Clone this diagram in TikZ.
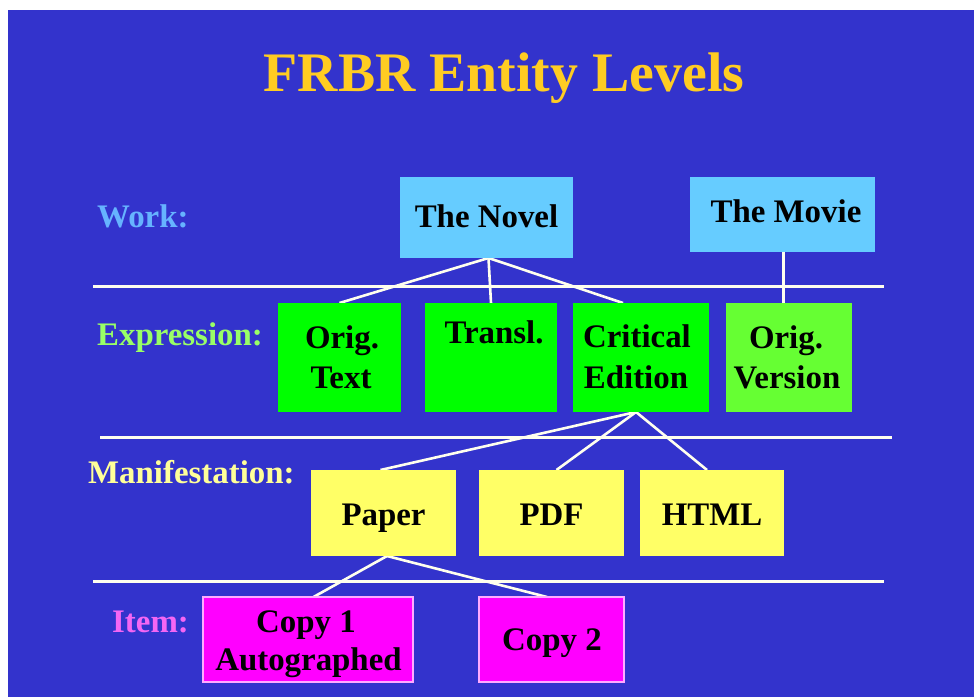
\documentclass[tikz,border=0pt]{standalone}
\usepackage{fontspec}
\setmainfont{Liberation Serif}
\usetikzlibrary{fit}

\definecolor{slidebg}{HTML}{3333CC}
\definecolor{titlegold}{HTML}{FFCC22}
\definecolor{rulecol}{HTML}{FFFFEE}
\definecolor{worklbl}{HTML}{66B3FF}
\definecolor{exprlbl}{HTML}{99FF66}
\definecolor{maniflbl}{HTML}{FFFF99}
\definecolor{itemlbl}{HTML}{F466F4}
\definecolor{workfill}{HTML}{66CCFF}
\definecolor{exprfill}{HTML}{00FF00}
\definecolor{exprfilltwo}{HTML}{66FF33}
\definecolor{maniffill}{HTML}{FFFF66}
\definecolor{itemfill}{HTML}{FF00FF}
\definecolor{itemedge}{HTML}{FFAAFF}

\begin{document}
\begin{tikzpicture}[x=1bp,y=-1bp,
  entity/.style={inner sep=0pt, outer sep=0pt, draw=none},
  boxtext/.style={anchor=base, inner sep=0pt, text=black,
    font=\bfseries\fontsize{33}{40}\selectfont},
  levellabel/.style={anchor=base west, inner sep=0pt,
    font=\bfseries\fontsize{33}{40}\selectfont},
  levelrule/.style={draw=rulecol, line width=3bp},
  link/.style={draw=rulecol, line width=2.6bp}]

% page and slide background
\useasboundingbox (0,0) rectangle (974,697);
\fill[white] (0,0) rectangle (974,697);
\fill[slidebg] (8,10) rectangle (974,697);

% title
\node[anchor=base, inner sep=0pt, text=titlegold,
  font=\bfseries\fontsize{56}{60}\selectfont] (title) at (504,92) {FRBR Entity Levels};

% level names
\node[levellabel, text=worklbl]  (lwork)  at (97,227) {Work:};
\node[levellabel, text=exprlbl]  (lexpr)  at (97,345) {Expression:};
\node[levellabel, text=maniflbl] (lmanif) at (88,483) {Manifestation:};
\node[levellabel, text=itemlbl]  (litem)  at (112,632) {Item:};

% separators between levels
\coordinate (r1a) at (93,286);  \coordinate (r1b) at (884,286);
\coordinate (r2a) at (100,437); \coordinate (r2b) at (892,437);
\coordinate (r3a) at (93,581);  \coordinate (r3b) at (884,581);
\draw[levelrule] (r1a) -- (r1b);
\draw[levelrule] (r2a) -- (r2b);
\draw[levelrule] (r3a) -- (r3b);

% entity boxes (geometry only)
\node[entity, fit={(400,177) (573,258)}] (novel) {};
\node[entity, fit={(690,177) (875,252)}] (movie) {};
\node[entity, fit={(278,303) (401,412)}] (origtext) {};
\node[entity, fit={(425,303) (557,412)}] (transl) {};
\node[entity, fit={(573,303) (709,412)}] (crit) {};
\node[entity, fit={(726,303) (852,412)}] (origver) {};
\node[entity, fit={(311,470) (456,556)}] (paper) {};
\node[entity, fit={(479,470) (624,556)}] (pdf) {};
\node[entity, fit={(640,470) (784,556)}] (html) {};
\node[entity, fit={(203,597) (413,682)}] (copyone) {};
\node[entity, fit={(479,597) (624,682)}] (copytwo) {};

% relationships
\draw[link] ([xshift=2bp]novel.south) -- (origtext.north);
\draw[link] ([xshift=2bp]novel.south) -- (transl.north);
\draw[link] ([xshift=2bp]novel.south) -- ([xshift=-18bp]crit.north);
\draw[link] ([xshift=1bp]movie.south) -- ([xshift=1bp]movie.south |- origver.north);
\draw[link] ([xshift=-5bp]crit.south) -- ([xshift=-3bp]paper.north);
\draw[link] ([xshift=-5bp]crit.south) -- ([xshift=5bp]pdf.north);
\draw[link] ([xshift=-5bp]crit.south) -- ([xshift=-5bp]html.north);
\draw[link] ([xshift=3.5bp]paper.south) -- ([xshift=5.5bp]copyone.north);
\draw[link] ([xshift=3.5bp]paper.south) -- ([xshift=-4.5bp]copytwo.north);

% box fills drawn over the link ends
\fill[workfill] (novel.north west) rectangle (novel.south east);
\fill[workfill] (movie.north west) rectangle (movie.south east);
\fill[exprfill] (origtext.north west) rectangle (origtext.south east);
\fill[exprfill] (transl.north west) rectangle (transl.south east);
\fill[exprfill] (crit.north west) rectangle (crit.south east);
\fill[exprfilltwo] (origver.north west) rectangle (origver.south east);
\fill[maniffill] (paper.north west) rectangle (paper.south east);
\fill[maniffill] (pdf.north west) rectangle (pdf.south east);
\fill[maniffill] (html.north west) rectangle (html.south east);
\filldraw[fill=itemfill, draw=itemedge, line width=1.5bp] (copyone.north west) rectangle (copyone.south east);
\filldraw[fill=itemfill, draw=itemedge, line width=1.5bp] (copytwo.north west) rectangle (copytwo.south east);

% box texts
\node[boxtext] (tnovel) at (486.5,227) {The Novel};
\node[boxtext] (tmovie) at (786,222) {The Movie};
\node[boxtext] (torig1) at (342,348) {Orig.};
\node[boxtext] (torig2) at (341,388) {Text};
\node[boxtext] (ttransl) at (494,343) {Transl.};
\node[boxtext] (tcrit1) at (637,347) {Critical};
\node[boxtext] (tcrit2) at (636,388) {Edition};
\node[boxtext] (tver1) at (786,348) {Orig.};
\node[boxtext] (tver2) at (787,388) {Version};
\node[boxtext] (tpaper) at (383.5,525) {Paper};
\node[boxtext] (tpdf) at (551.5,525) {PDF};
\node[boxtext] (thtml) at (712,525) {HTML};
\node[boxtext] (tcopy1) at (306,632) {Copy 1};
\node[boxtext] (tcopy1b) at (308.5,670) {Autographed};
\node[boxtext] (tcopy2) at (552,650) {Copy 2};
\end{tikzpicture}
\end{document}
